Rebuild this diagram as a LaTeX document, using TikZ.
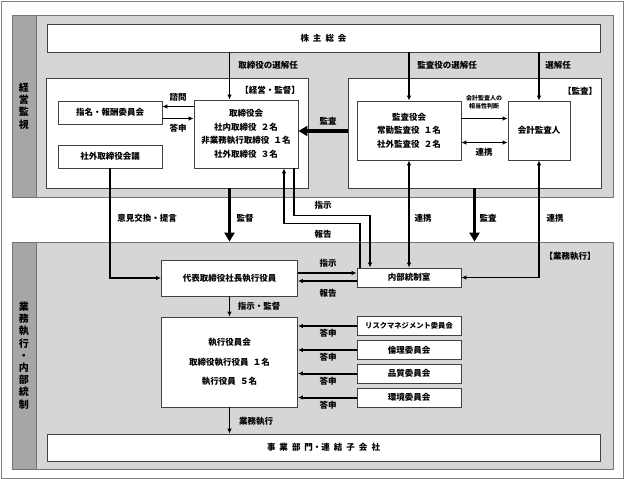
\documentclass[tikz,border=0pt]{standalone}
\usepackage{fontspec}
\setmainfont{Noto Sans CJK JP}
\usetikzlibrary{calc,arrows.meta}

\begin{document}
\begin{tikzpicture}[x=1pt,y=-1pt,
    box/.style={draw=black!75,fill=white,line width=0.8pt,inner sep=0pt,align=center,font=\fontsize{8.5}{13.5}\selectfont\bfseries},
    panel/.style={draw=black!55,fill=black!16,line width=0.8pt,inner sep=0pt},
    strip/.style={draw=black!55,fill=black!35,line width=0.8pt,inner sep=0pt,align=center,font=\fontsize{10}{12.2}\selectfont\bfseries},
    lbl/.style={font=\fontsize{8.5}{10}\selectfont\bfseries,inner sep=1pt},
    small/.style={font=\fontsize{6}{8.5}\selectfont\bfseries,inner sep=1pt,align=center},
    arr/.style={-{Latex[length=5pt,width=4.5pt]},line width=1.3pt},
    darr/.style={{Latex[length=5pt,width=4.5pt]}-{Latex[length=5pt,width=4.5pt]},line width=1.3pt},
    mid/.style={-{Latex[length=5pt,width=4.5pt]},line width=2pt},
    bold/.style={-{Triangle[length=9pt,width=10pt]},line width=3.5pt}]
  \useasboundingbox (0,0) rectangle (624,479);
  \draw[black!50,line width=0.8pt] (1,1) rectangle (623,478);

  \node[panel,minimum width=601,minimum height=182] (kanshi) at (312.5,106) {};
  \node[strip,minimum width=24,minimum height=182] (kanshilbl) at (24,106) {経\\営\\監\\視};
  \node[panel,minimum width=601,minimum height=227] (gyomu) at (312.5,355.5) {};
  \node[strip,minimum width=24,minimum height=227] (gyomulbl) at (24,355.5) {業\\務\\執\\行\\・\\内\\部\\統\\制};

  \node[box,minimum width=553,minimum height=28] (soukai) at (323.5,38) {株\hspace{4pt}主\hspace{4pt}総\hspace{4pt}会};
  \node[box,minimum width=262,minimum height=110] (keiei) at (177,133) {};
  \node[box,minimum width=253,minimum height=110] (kansa) at (474.5,133) {};
  \node[lbl] (keieilbl) at (270,90) {【経営・監督】};
  \node[lbl] (kansalbl) at (580,91) {【監査】};

  \node[box,minimum width=104,minimum height=23] (shimei) at (110,112.5) {指名・報酬委員会};
  \node[box,minimum width=104,minimum height=23] (shagai) at (110,156.5) {社外取締役会議};
  \node[box,minimum width=104,minimum height=68] (torishimari) at (246,134) {取締役会\\社内取締役\hspace{0.5em}２名\\非業務執行取締役\hspace{0.5em}１名\\社外取締役\hspace{0.5em}３名};
  \node[box,minimum width=104,minimum height=59] (kansayaku) at (409,130.5) {監査役会\\常勤監査役\hspace{0.5em}１名\\社外監査役\hspace{0.5em}２名};
  \node[box,minimum width=62,minimum height=59] (kaikei) at (539,130.5) {会計監査人};

  \node[box,minimum width=136,minimum height=36] (daihyo) at (229.5,278) {代表取締役社長執行役員};
  \node[box,minimum width=136,minimum height=90,font=\fontsize{8.5}{19.5}\selectfont\bfseries] (shikkou) at (229.5,362) {執行役員会\\取締役執行役員\hspace{0.5em}１名\\執行役員\hspace{0.5em}５名};
  \node[box,minimum width=553,minimum height=27] (jigyo) at (323.5,447.5) {事\hspace{4pt}業\hspace{4pt}部\hspace{4pt}門・連\hspace{4pt}結\hspace{4pt}子\hspace{4pt}会\hspace{4pt}社};
  \node[box,minimum width=104,minimum height=19] (naibu) at (409,277.5) {内部統制室};
  \node[box,minimum width=104,minimum height=19,font=\fontsize{7.3}{9}\selectfont\bfseries] (risk) at (409,326) {リスクマネジメント委員会};
  \node[box,minimum width=104,minimum height=19] (rinri) at (409,350) {倫理委員会};
  \node[box,minimum width=104,minimum height=19] (hinshitsu) at (409,373.5) {品質委員会};
  \node[box,minimum width=104,minimum height=19] (kankyo) at (409,397.5) {環境委員会};
  \node[lbl] (gyomulbl2) at (570,256) {【業務執行】};

  \draw[arr] (soukai.south -| daihyo) -- (torishimari.north -| daihyo);
  \node[lbl] (senkai1) at (268,65) {取締役の選解任};
  \draw[arr] (soukai.south -| kansayaku) -- (kansayaku.north);
  \node[lbl] (senkai2) at (447,65) {監査役の選解任};
  \draw[arr] (soukai.south -| kaikei) -- (kaikei.north);
  \node[lbl] (senkai3) at (558,65) {選解任};

  \draw[arr] ($(shimei.east -| torishimari.west)+(0,-6)$) -- ($(shimei.east)+(0,-6)$);
  \node[lbl] (shimon) at (178,97) {諮問};
  \draw[arr] ($(shimei.east)+(0,6)$) -- ($(shimei.east -| torishimari.west)+(0,6)$);
  \node[lbl] (toushin0) at (178,128) {答申};

  \draw[bold] ($(kansa.west)+(0,-2)$) -- ($(kansa.west -| torishimari.east)+(0,-2)$);
  \node[lbl] (kansa1) at (328,121) {監査};
  \draw[arr] ($(kansayaku.east)+(0,-12)$) -- ($(kansayaku.east -| kaikei.west)+(0,-12)$);
  \node[small] (soutou) at (484,102) {会計監査人の\\相当性判断};
  \draw[darr] ($(kansayaku.east)+(0,12)$) -- ($(kansayaku.east -| kaikei.west)+(0,12)$);
  \node[lbl] (renkei0) at (484,152) {連携};

  \draw[arr] (shagai.south) |- (daihyo.west);
  \node[lbl] (iken) at (147,218) {意見交換・提言};
  \draw[bold] (keiei.south -| daihyo) -- (gyomu.north -| daihyo);
  \node[lbl] (kantoku) at (245,218) {監督};
  \draw[arr] ([xshift=48pt]torishimari.south) -- ++(0,47) -| ([xshift=-39pt]naibu.north);
  \node[lbl] (shiji1) at (323,205) {指示};
  \draw[arr] ([xshift=-49pt]naibu.north) -- ++(0,-44) -| ([xshift=38pt]torishimari.south);
  \node[lbl] (houkoku1) at (323,234) {報告};
  \draw[darr] (kansayaku.south) -- (naibu.north);
  \node[lbl] (renkei1) at (423,218) {連携};
  \draw[bold] (kansa.south) -- (kansa.south |- gyomu.north);
  \node[lbl] (kansa2) at (488,218) {監査};
  \draw[darr] (kaikei.south) |- (naibu.east);
  \node[lbl] (renkei2) at (555,218) {連携};

  \draw[arr] ($(daihyo.east)+(0,-5)$) -- ($(daihyo.east -| naibu.west)+(0,-5)$);
  \node[lbl] (shiji2) at (328,263) {指示};
  \draw[arr] ($(daihyo.east -| naibu.west)+(0,3)$) -- ($(daihyo.east)+(0,3)$);
  \node[lbl] (houkoku2) at (328,293) {報告};

  \draw[arr] (daihyo.south) -- (shikkou.north);
  \node[lbl] (shiji3) at (259,306) {指示・監督};
  \draw[arr] (shikkou.south) -- (jigyo.north -| shikkou);
  \node[lbl] (gyomu3) at (256,421) {業務執行};

  \foreach \c/\y in {risk/333,rinri/357,hinshitsu/381,kankyo/405}{
    \draw[mid] (\c.west) -- (\c.west -| shikkou.east);
    \node[lbl] (toushin-\c) at (328,\y) {答申};
  }
\end{tikzpicture}
\end{document}
